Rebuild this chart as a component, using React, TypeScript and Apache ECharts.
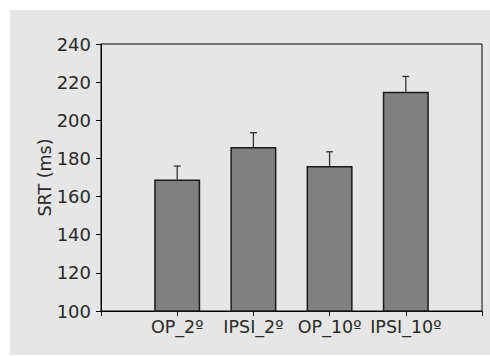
import React, { useEffect, useRef } from "react";
import * as echarts from "echarts";

const categories = ["", "OP_2º", "IPSI_2º", "OP_10º", "IPSI_10º", ""];
const means = [null, 169, 186, 176, 215, null];
const errors = [null, 7, 7.5, 7.5, 8, null];
const yMin = 100;
const yMax = 240;
const yInterval = 20;

const FONT = "DejaVu Sans";

export default function App() {
  const ref = useRef<HTMLDivElement>(null);
  useEffect(() => {
    if (!ref.current) return;
    const chart = echarts.init(ref.current, null, { renderer: "svg" });
    const errData = means
      .map((m, i) => (m == null ? null : [i, m, (m as number) + (errors[i] as number)]))
      .filter((d) => d != null);
    chart.setOption({
      animation: false,
      backgroundColor: "#ffffff",
      graphic: [
        {
          type: "rect",
          z: -10,
          shape: { x: 10, y: 10, width: 480, height: 345 },
          style: { fill: "#e6e6e6" },
        },
      ],
      grid: {
        left: 101,
        right: 8,
        top: 44,
        bottom: 45,
        show: true,
        borderColor: "#000",
        borderWidth: 1,
        backgroundColor: "transparent",
      },
      xAxis: {
        type: "category",
        data: categories,
        boundaryGap: false,
        axisLine: { lineStyle: { color: "#000", width: 1 } },
        axisTick: { show: true, inside: false, length: 5, alignWithLabel: true, lineStyle: { color: "#000" } },
        axisLabel: { color: "#2a2a2a", fontFamily: FONT, fontSize: 17.5, margin: 7, interval: 0 },
        splitLine: { show: false },
      },
      yAxis: {
        type: "value",
        min: yMin,
        max: yMax,
        interval: yInterval,
        name: "SRT (ms)",
        nameLocation: "middle",
        nameRotate: 90,
        nameGap: 47,
        nameMoveOverlap: false,
        nameTextStyle: { color: "#2a2a2a", fontFamily: FONT, fontSize: 17.5, verticalAlign: "bottom" },
        axisLine: { show: true, lineStyle: { color: "#000", width: 1 } },
        axisTick: { show: true, inside: false, length: 5, lineStyle: { color: "#000" } },
        axisLabel: { color: "#2a2a2a", fontFamily: FONT, fontSize: 18, margin: 10 },
        splitLine: { show: false },
      },
      series: [
        {
          type: "bar",
          data: means,
          barWidth: 46,
          itemStyle: { color: "#808080", borderColor: "#1a1a1a", borderWidth: 1.5 },
          z: 2,
        },
        {
          type: "custom",
          z: 3,
          data: errData,
          renderItem: (params: any, api: any) => {
            const x = api.value(0);
            const lo = api.coord([x, api.value(1)]);
            const hi = api.coord([x, api.value(2)]);
            const style = { stroke: "#333", lineWidth: 1.3 };
            return {
              type: "group",
              children: [
                { type: "line", shape: { x1: lo[0], y1: lo[1], x2: hi[0], y2: hi[1] }, style },
                { type: "line", shape: { x1: hi[0] - 3.5, y1: hi[1], x2: hi[0] + 3.5, y2: hi[1] }, style },
              ],
            };
          },
        },
      ],
    });
    return () => chart.dispose();
  }, []);
  return (
    <div
      ref={ref}
      style={{ position: "absolute", left: 0, top: 0, width: 490, height: 356 }}
    />
  );
}
